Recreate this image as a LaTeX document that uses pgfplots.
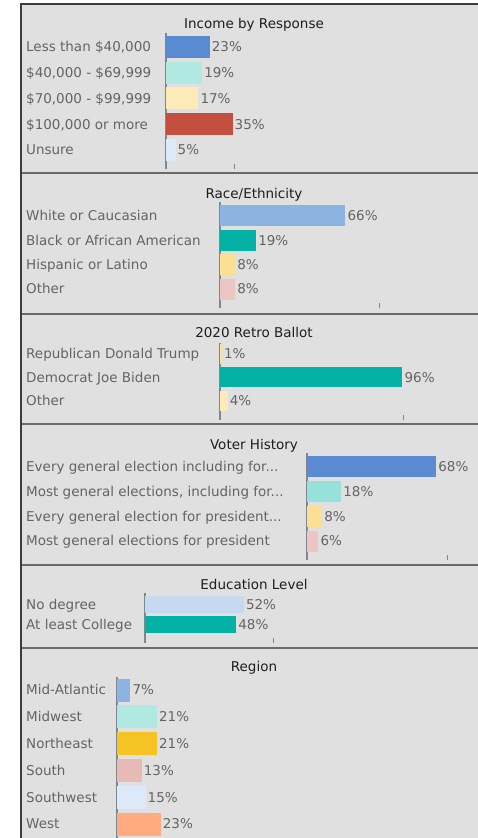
\documentclass[border=0pt]{standalone}
\usepackage{fontspec}
\setmainfont{DejaVu Sans}
\usepackage{pgfplots}
\pgfplotsset{compat=1.18}
\definecolor{bg}{HTML}{E0E0E0}
\definecolor{bordercol}{HTML}{3C3C3C}
\definecolor{sepcol}{HTML}{6A6A6A}
\definecolor{axisgray}{HTML}{7E8790}
\definecolor{labelgray}{HTML}{646464}
\definecolor{titlecol}{HTML}{1E1E1E}
\definecolor{cblue}{HTML}{5A8AD2}
\definecolor{cmidblue}{HTML}{8DB3E2}
\definecolor{cltteal}{HTML}{B2E8E2}
\definecolor{cteal2}{HTML}{96E1DA}
\definecolor{clty}{HTML}{FCEAB8}
\definecolor{cyel}{HTML}{FBDF92}
\definecolor{cred}{HTML}{C44F40}
\definecolor{cvlb}{HTML}{DCE9F8}
\definecolor{cteal}{HTML}{04B2A5}
\definecolor{cpink}{HTML}{EDC6C4}
\definecolor{cpink2}{HTML}{E8BAB5}
\definecolor{cpale}{HTML}{C6D9F1}
\definecolor{cgold}{HTML}{F5C324}
\definecolor{corange}{HTML}{FFAB82}
\newcommand{\lbl}{\fontsize{13.5}{16}\selectfont}
\newcommand{\ddd}{.{}.{}.}
\pgfplotsset{
  panel/.style={
    scale only axis, xbar, xmin=0, clip=false,
    axis x line*=bottom, axis y line*=left,
    x axis line style={draw=none},
    y axis line style={draw=axisgray, line width=1.8pt, -},
    y dir=reverse,
    y tick style={draw=none},
    xticklabels={},
    x tick style={draw=axisgray, line width=1pt},
    xtick align=inside, major tick length=5pt,
    yticklabel style={anchor=base west, inner sep=0pt, text=labelgray, font=\lbl, yshift=-4.8pt},
    point meta=x,
    /pgf/number format/assume math mode=true,
    nodes near coords={\pgfmathprintnumber{\pgfplotspointmeta}\%},
    nodes near coords style={anchor=base west, inner sep=0pt, xshift=2pt, yshift=-4.8pt, text=labelgray, font=\lbl},
  },
  b/.style={fill=#1, draw=none, bar shift=0pt},
}
\begin{document}
\begin{tikzpicture}[x=1pt,y=1pt]
\useasboundingbox (0,0) rectangle (478,838);
\clip (0,0) rectangle (478,838);
\fill[white] (0,0) rectangle (478,838);
\fill[bg] (20,0) rectangle (478,834);

% Panel 1
\begin{axis}[panel, at={(261pt,737pt)}, anchor=center, width=190pt, height=136pt,
  xmax=100, ymin=-0.544, ymax=4.738, ytick={0,1,2,3,4},
  yticklabels={{Less than \$40,000},{\$40,000 - \$69,999},{\$70,000 - \$99,999},{\$100,000 or more},{Unsure}},
  yticklabel style={xshift=-135pt}, xtick={35.8}, bar width=22pt]
\addplot[b=cblue] coordinates {(23,0)};
\addplot[b=cltteal] coordinates {(19,1)};
\addplot[b=clty] coordinates {(17,2)};
\addplot[b=cred] coordinates {(35,3)};
\addplot[b=cvlb] coordinates {(5,4)};
\end{axis}

% Panel 2
\begin{axis}[panel, at={(315pt,583pt)}, anchor=center, width=190pt, height=106pt,
  xmax=100, ymin=-0.575, ymax=3.78, ytick={0,1,2,3},
  yticklabels={{White or Caucasian},{Black or African American},{Hispanic or Latino},{Other}},
  yticklabel style={xshift=-189pt}, xtick={84.2}, bar width=21pt]
\addplot[b=cmidblue] coordinates {(66,0)};
\addplot[b=cteal] coordinates {(19,1)};
\addplot[b=cyel] coordinates {(8,2)};
\addplot[b=cpink] coordinates {(8,3)};
\end{axis}

% Panel 3
\begin{axis}[panel, at={(315pt,456.5pt)}, anchor=center, width=190pt, height=77pt,
  xmax=100, ymin=-0.468, ymax=2.81, ytick={0,1,2},
  yticklabels={{Republican Donald Trump},{Democrat Joe Biden},{Other}},
  yticklabel style={xshift=-189pt}, xtick={96.8}, bar width=20pt]
\addplot[b=cyel] coordinates {(1,0)};
\addplot[b=cteal] coordinates {(96,1)};
\addplot[b=clty] coordinates {(4,2)};
\end{axis}

% Panel 4
\begin{axis}[panel, at={(387.75pt,331.5pt)}, anchor=center, width=161.5pt, height=107pt,
  xmax=85, ymin=-0.567, ymax=3.77, ytick={0,1,2,3},
  yticklabels={{Every general election including for\ddd},{Most general elections, including for\ddd},{Every general election for president\ddd},{Most general elections for president}},
  yticklabel style={xshift=-276pt}, xtick={73.7}, bar width=21pt]
\addplot[b=cblue] coordinates {(68,0)};
\addplot[b=cteal2] coordinates {(18,1)};
\addplot[b=cyel] coordinates {(8,2)};
\addplot[b=cpink] coordinates {(6,3)};
\end{axis}

% Panel 5
\begin{axis}[panel, at={(240pt,220pt)}, anchor=center, width=190pt, height=50pt,
  xmax=100, ymin=-0.6, ymax=1.9, ytick={0,1},
  yticklabels={{No degree},{At least College}},
  yticklabel style={xshift=-114pt}, xtick={67.4}, bar width=17pt]
\addplot[b=cpale] coordinates {(52,0)};
\addplot[b=cteal] coordinates {(48,1)};
\end{axis}

% Panel 6
\begin{axis}[panel, at={(212pt,77pt)}, anchor=center, width=190pt, height=168pt,
  xmax=100, ymin=-0.485, ymax=5.78, ytick={0,1,2,3,4,5},
  yticklabels={{Mid-Atlantic},{Midwest},{Northeast},{South},{Southwest},{West}},
  yticklabel style={xshift=-86pt}, xtick={120}, bar width=23pt]
\addplot[b=cmidblue] coordinates {(7,0)};
\addplot[b=cltteal] coordinates {(21,1)};
\addplot[b=cgold] coordinates {(21,2)};
\addplot[b=cpink2] coordinates {(13,3)};
\addplot[b=cvlb] coordinates {(15,4)};
\addplot[b=corange] coordinates {(23,5)};
\end{axis}

% titles
\begin{scope}[every node/.style={anchor=base, font=\lbl, text=titlecol, inner sep=0pt}]
\node at (254,809) {Income by Response};
\node at (254,639) {Race/Ethnicity};
\node at (254,500) {2020 Retro Ballot};
\node at (254,388) {Voter History};
\node at (254,248) {Education Level};
\node at (254,166) {Region};
\end{scope}

% frame and separators
\draw[sepcol, line width=2pt] (20,665) -- (478,665);
\draw[sepcol, line width=2pt] (20,524) -- (478,524);
\draw[sepcol, line width=2pt] (20,413.5) -- (478,413.5);
\draw[sepcol, line width=2pt] (20,273) -- (478,273);
\draw[sepcol, line width=2pt] (20,190) -- (478,190);
\draw[bordercol, line width=2pt] (21,0) -- (21,834) -- (478,834);
\end{tikzpicture}
\end{document}
